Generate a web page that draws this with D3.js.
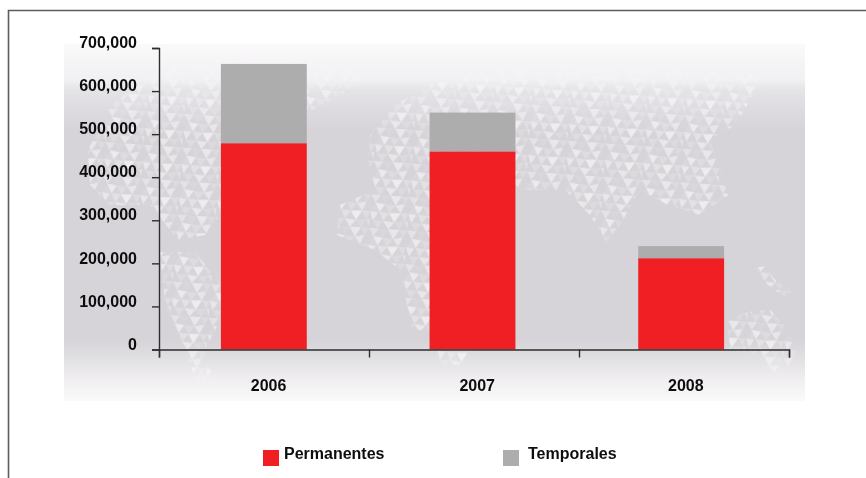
<!DOCTYPE html>
<html><head><meta charset="utf-8">
<script src="https://cdn.jsdelivr.net/npm/d3@7/dist/d3.min.js"></script>
<style>
html,body{margin:0;padding:0;background:#fff;overflow:hidden}
svg{display:block}
text{font-family:"Liberation Sans",Arial,sans-serif;font-weight:700;fill:#111}
</style></head><body>
<svg id="c" width="866" height="478"></svg>
<script>
const years = ["2006","2007","2008"];
const permanentes = [479000,460000,212000];
const temporales = [184000,90000,28000];
const yTicks = [0,100000,200000,300000,400000,500000,600000,700000];
const seriesNames = ["Permanentes","Temporales"];
const seriesColors = ["#ef1f24","#adadad"];

const svg = d3.select("#c");
const defs = svg.append("defs");

// decorative backdrop
const bg = defs.append("linearGradient").attr("id","bg").attr("x1",0).attr("x2",0).attr("y1",0).attr("y2",1);
[[0,"#fbf9fb"],[0.05,"#f6f5f6"],[0.10,"#f1f0f2"],[0.13,"#e4e3e6"],[0.20,"#dbd9de"],[0.245,"#d6d4d8"],[0.83,"#d6d4d8"],[0.87,"#dedde0"],[0.93,"#eeecef"],[1,"#fafafa"]]
 .forEach(d=>bg.append("stop").attr("offset",d[0]).attr("stop-color",d[1]));
svg.append("rect").attr("x",64).attr("y",44).attr("width",741).attr("height",357).attr("fill","url(#bg)");

const tile = defs.append("pattern").attr("id","tri").attr("patternUnits","userSpaceOnUse").attr("width",48).attr("height",42).attr("patternTransform","scale(0.8) rotate(4)");
[["M0 0L12 0L6 10",.45],["M12 0L24 0L18 11",.1],["M24 0L38 0L31 12",.6],["M38 0L48 0L43 9",.2],
 ["M6 10L18 11L12 21",.7],["M18 11L31 12L24 22",.25],["M31 12L43 9L38 21",.55],["M0 21L12 21L6 11",.12],
 ["M12 21L24 22L17 32",.4],["M24 22L38 21L31 33",.75],["M38 21L48 21L44 31",.3],["M0 21L10 22L4 32",.6],
 ["M4 32L17 32L10 42",.25],["M17 32L31 33L24 42",.6],["M31 33L44 31L38 42",.15],["M44 31L48 31L48 40",.4]]
 .forEach(d=>tile.append("path").attr("d",d[0]).attr("fill","#f6f4f7").attr("opacity",d[1]));
defs.append("filter").attr("id","soft").append("feGaussianBlur").attr("stdDeviation",0.7);
defs.append("filter").attr("id","softText").append("feGaussianBlur").attr("stdDeviation",0.3);

const landShapes = [
 "M88 150L110 105L160 70L230 58L300 62L368 72L345 92L315 108L290 130L262 160L235 195L205 235L178 240L150 205L110 205L90 185Z",
 "M160 252L195 252L225 290L220 320L205 350L215 385L195 378L180 340L165 300Z",
 "M370 135L395 105L430 85L480 72L560 66L660 68L760 75L750 100L735 125L710 140L728 195L700 215L668 205L640 190L620 225L606 242L590 215L565 190L530 190L490 180L470 215L462 270L445 295L430 330L412 330L400 270L375 250L337 235L340 205L375 190L368 160Z",
 "M436 345L470 345L462 365L440 365Z",
 "M727 322L745 312L770 310L785 325L795 345L800 362L775 372L755 355L730 350Z",
 "M755 268L765 266L775 280L792 290L785 297L768 285Z"
];
svg.append("g").attr("filter","url(#soft)").selectAll("path").data(landShapes).join("path").attr("d",d=>d).attr("fill","url(#tri)");

// scales
const m = {l:159,r:789,t:48,b:349.5};
const y = d3.scaleLinear().domain([0,700000]).range([m.b,m.t]);
const x = d3.scaleBand().domain(years).range([m.l,786]).paddingInner(0.5885).paddingOuter(0.2967);
const xTicks = d3.scaleLinear().domain([0,years.length]).range([m.l,m.r]);

// stacked bars
const rows = years.map((yr,i)=>({year:yr,Permanentes:permanentes[i],Temporales:temporales[i]}));
const stacked = d3.stack().keys(seriesNames)(rows);
svg.append("g").selectAll("g").data(stacked).join("g").attr("fill",(d,i)=>seriesColors[i])
  .selectAll("rect").data(d=>d).join("rect")
  .attr("x",d=>x(d.data.year)).attr("width",x.bandwidth())
  .attr("y",d=>y(d[1])).attr("height",d=>y(d[0])-y(d[1]));

// axes
const fmt = d3.format(",");
const ax = svg.append("g").attr("transform",`translate(${m.l},0)`)
  .call(d3.axisLeft(y).tickValues(yTicks).tickFormat(fmt).tickSize(7).tickPadding(15));
ax.selectAll("text").attr("dy","-0.02em").style("font-size","16px").attr("filter","url(#softText)");
const bx = svg.append("g").attr("transform",`translate(0,${m.b})`)
  .call(d3.axisBottom(xTicks).tickValues(d3.range(years.length+1)).tickFormat("").tickSize(8));
svg.selectAll(".domain,.tick line").attr("stroke","#2e2e2e").attr("stroke-width",1.4);

svg.append("g").attr("filter","url(#softText)").selectAll("text").data(years).join("text")
  .attr("x",d=>x(d)+x.bandwidth()/2+4.7).attr("y",391).attr("text-anchor","middle")
  .style("font-size","16px").text(d=>d);

// legend
const legendX = d3.scaleOrdinal().domain(seriesNames).range([263,503]);
const lg = svg.append("g").selectAll("g").data(seriesNames).join("g")
  .attr("transform",d=>`translate(${legendX(d)},450)`);
lg.append("rect").attr("width",16).attr("height",16).attr("fill",(d,i)=>seriesColors[i]);
lg.append("text").attr("x",(d,i)=>i?25:21).attr("y",8.5).style("font-size","16px").attr("filter","url(#softText)").text(d=>d);

// frame
svg.append("path").attr("d","M8.5 478V10.5H866").attr("fill","none").attr("stroke","#5c5c5c").attr("stroke-width",1.6);
</script></body></html>
